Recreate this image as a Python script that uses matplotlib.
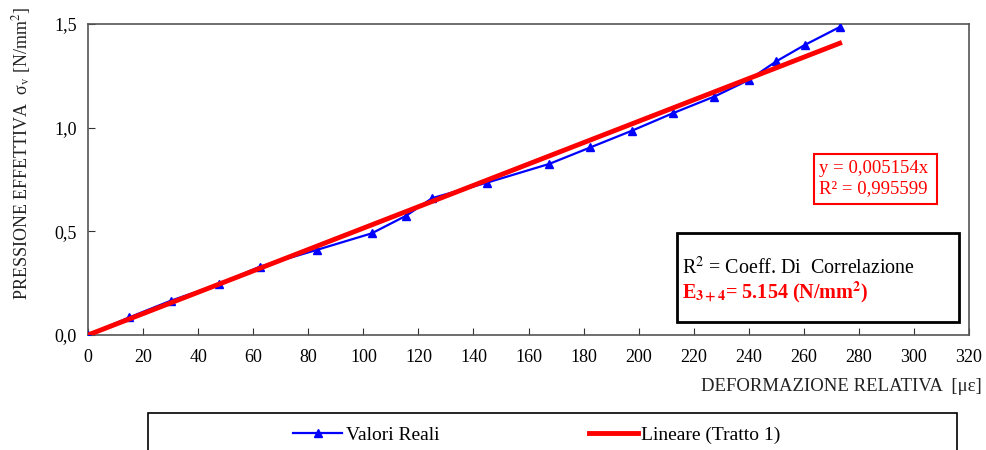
import matplotlib
matplotlib.use('Agg')
import matplotlib.pyplot as plt
from matplotlib.patches import Rectangle
import numpy as np

plt.rcParams['font.family'] = ['Liberation Serif', 'DejaVu Serif']
plt.rcParams['mathtext.fontset'] = 'stix'

# misure (deformazione in microstrain, pressione in N/mm2)
deformazione = [0, 15, 30, 47.5, 62.5, 83, 103, 115.5, 125, 145, 167.5, 182.5,
                197.5, 212.5, 227.5, 240, 250, 260.5, 273]
pressione = [0.0, 0.085, 0.165, 0.245, 0.33, 0.41, 0.49, 0.575, 0.66, 0.735, 0.825,
             0.905, 0.985, 1.07, 1.15, 1.23, 1.32, 1.40, 1.485]
pendenza = 0.005154
x_fit = [0, 273]
xticks = list(range(0, 321, 20))
yticks = [0.0, 0.5, 1.0, 1.5]
ytick_labels = ['0,0', '0,5', '1,0', '1,5']

fig = plt.figure(figsize=(9.87, 4.5), dpi=100)
ax = fig.add_axes([0.0892, 0.2556, 0.8926, 0.6911])

l1, = ax.plot(deformazione, pressione, color='#0000ff', lw=1.6, marker='^', ms=6,
              label='Valori Reali', zorder=3)
l2, = ax.plot(x_fit, [pendenza * v for v in x_fit], color='#ff0000', lw=3.5,
              label='Lineare (Tratto 1)', zorder=4)

ax.set_xlim(0, 320)
ax.set_ylim(0, 1.5)
ax.set_xticks(xticks)
ax.set_yticks(yticks)
ax.set_yticklabels(ytick_labels)
ax.tick_params(direction='in', length=5, labelsize=13, colors='#333333',
               labelcolor='black', pad=8)
ax.tick_params(axis='x', pad=10)
for s in ax.spines.values():
    s.set_color('#555555')
    s.set_linewidth(1.2)

fig.text(0.022, 0.658, 'PRESSIONE EFFETTIVA  σ$_\\mathrm{v}$ [N/mm$^2$]', rotation=90,
         ha='center', va='center', fontsize=13, color='#222222')
fig.text(0.995, 0.142, 'DEFORMAZIONE RELATIVA  [με]', ha='right',
         va='center', fontsize=13.5, color='#222222')

# box equazione
ax.add_patch(Rectangle((0.824, 0.421), 0.140, 0.161, transform=ax.transAxes,
                       fill=True, facecolor='white', edgecolor='#ff0000', lw=1.5, zorder=5))
ax.text(0.830, 0.535, 'y = 0,005154x', transform=ax.transAxes, color='#ff0000',
        fontsize=13.5, va='center', ha='left', zorder=6)
ax.text(0.830, 0.470, 'R² = 0,995599', transform=ax.transAxes, color='#ff0000',
        fontsize=13.5, va='center', ha='left', zorder=6)

# box correlazione
ax.add_patch(Rectangle((0.6686, 0.0418), 0.3201, 0.2862, transform=ax.transAxes,
                       fill=True, facecolor='white', edgecolor='black', lw=2, zorder=5))
ax.text(0.674, 0.215, r'R$^2$ = Coeff. Di  Correlazione', transform=ax.transAxes,
        color='black', fontsize=14.4, va='center', ha='left', zorder=6)
ax.text(0.674, 0.138, r'E$_{\mathbf{3+4}}$= 5.154 (N/mm$^{\mathbf{2}}$)', transform=ax.transAxes,
        color='#ff0000', fontsize=14.5, fontweight='bold', va='center', ha='left', zorder=6)

# legenda
fig.patches.append(Rectangle((148 / 987, -0.05), 809 / 987, 0.05 + 0.0822,
                             transform=fig.transFigure, facecolor='white',
                             edgecolor='black', lw=1.2, zorder=1))
fig.legend(handles=[l1, l2], loc='center', bbox_to_anchor=(537 / 987, 0.033),
           ncol=2, frameon=False, fontsize=14, handlelength=2.5, handletextpad=0.2,
           columnspacing=7.7, borderpad=0)

fig.savefig('out.png', dpi=100)
